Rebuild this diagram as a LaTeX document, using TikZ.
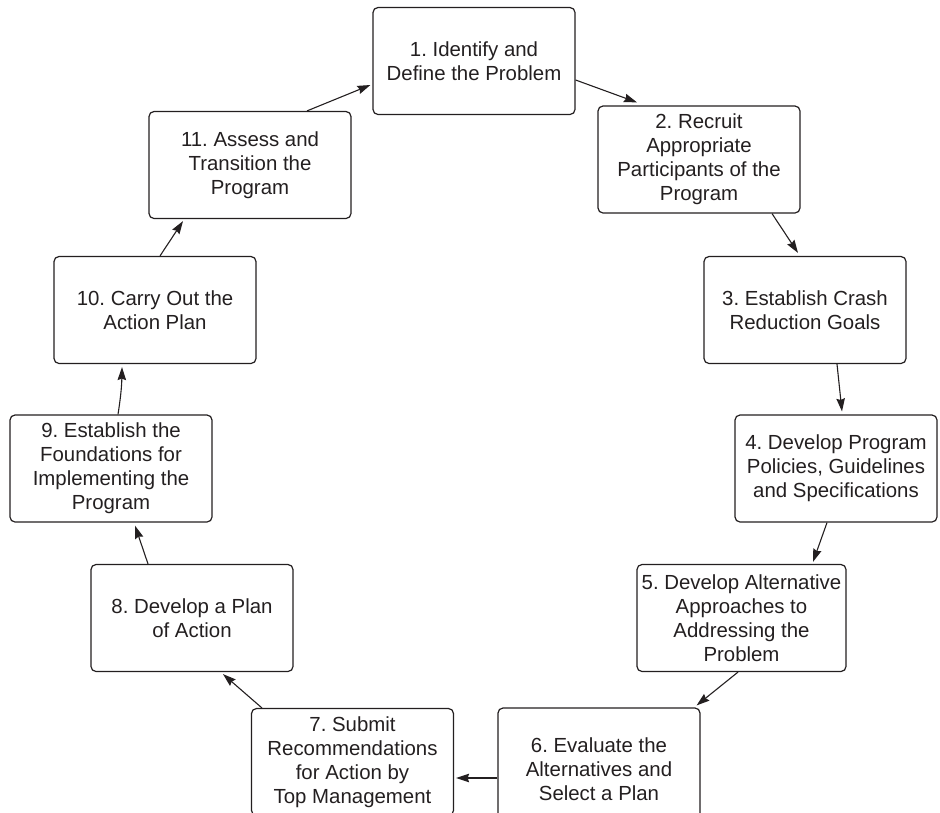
\documentclass[tikz,border=0pt]{standalone}
\usepackage{fontspec}
\setmainfont{Liberation Sans}
\usetikzlibrary{arrows.meta}
\definecolor{ink}{HTML}{231F20}
\tikzset{
  stepbox/.style={draw=ink, line width=1.2pt, rounded corners=5pt, text=ink,
    minimum width=202pt, minimum height=107pt, inner sep=0pt, align=center,
    font={\fontsize{20.4}{24}\selectfont\frenchspacing}},
  flow/.style={draw=ink, line width=1.1pt, -{Stealth[length=13pt,width=8.5pt,inset=1.5pt]}}
}
\begin{document}
\begin{tikzpicture}[x=1pt,y=-1pt]
\useasboundingbox (0,0) rectangle (940,812);
\clip (0,0) rectangle (940,812);
\node[stepbox] (b1) at (474,61) {1. Identify and\\Define the Problem};
\node[stepbox] (b2) at (699,159.5) {2. Recruit\\Appropriate\\Participants of the\\Program};
\node[stepbox] (b3) at (805,310) {3. Establish Crash\\Reduction Goals};
\node[stepbox] (b4) at (836,468.5) {4. Develop Program\\Policies, Guidelines\\and Specifications};
\node[stepbox, minimum width=209pt] (b5) at (741.5,618) {5. Develop Alternative\\Approaches to\\Addressing the\\Problem};
\node[stepbox, minimum height=122pt] (b6) at (599,769) {6. Evaluate the\\Alternatives and\\Select a Plan};
\node[stepbox] (b7) at (352.5,762) {7. Submit\\Recommendations\\for Action by\\Top Management};
\node[stepbox] (b8) at (192,618) {8. Develop a Plan\\of Action};
\node[stepbox] (b9) at (111,468.5) {9. Establish the\\Foundations for\\Implementing the\\Program};
\node[stepbox] (b10) at (155,310) {10. Carry Out the\\Action Plan};
\node[stepbox] (b11) at (250,165) {11. Assess and\\Transition the\\Program};

\draw[flow] ([yshift=-19pt]b1.east) -- ([xshift=-62pt,yshift=3pt]b2.north);
\draw[flow] ([xshift=73pt]b2.south) -- ([xshift=-7pt,yshift=3pt]b3.north);
\draw[flow] ([xshift=32pt]b3.south) -- ([xshift=6pt,yshift=3pt]b4.north);
\draw[flow] ([xshift=-9pt]b4.south) -- ([xshift=71.5pt,yshift=2pt]b5.north);
\draw[flow] ([xshift=-3.5pt]b5.south) -- ([xshift=-4pt,yshift=2pt]b6.north east);
\draw[flow] ([yshift=-9pt]b6.west) -- ([xshift=2pt,yshift=-16pt]b7.east);
\draw[flow] ([xshift=11pt]b7.north west) -- ([xshift=31pt,yshift=-2pt]b8.south);
\draw[flow] ([xshift=-44pt]b8.north) -- ([xshift=24pt,yshift=-3pt]b9.south);
\draw[flow] ([xshift=7pt]b9.north) to[bend right=4] ([xshift=-33pt,yshift=-3pt]b10.south);
\draw[flow] ([xshift=5pt]b10.north) -- ([xshift=-67pt,yshift=-2pt]b11.south);
\draw[flow] ([xshift=57pt]b11.north) -- ([xshift=-2pt,yshift=-24pt]b1.west);
\end{tikzpicture}
\end{document}
